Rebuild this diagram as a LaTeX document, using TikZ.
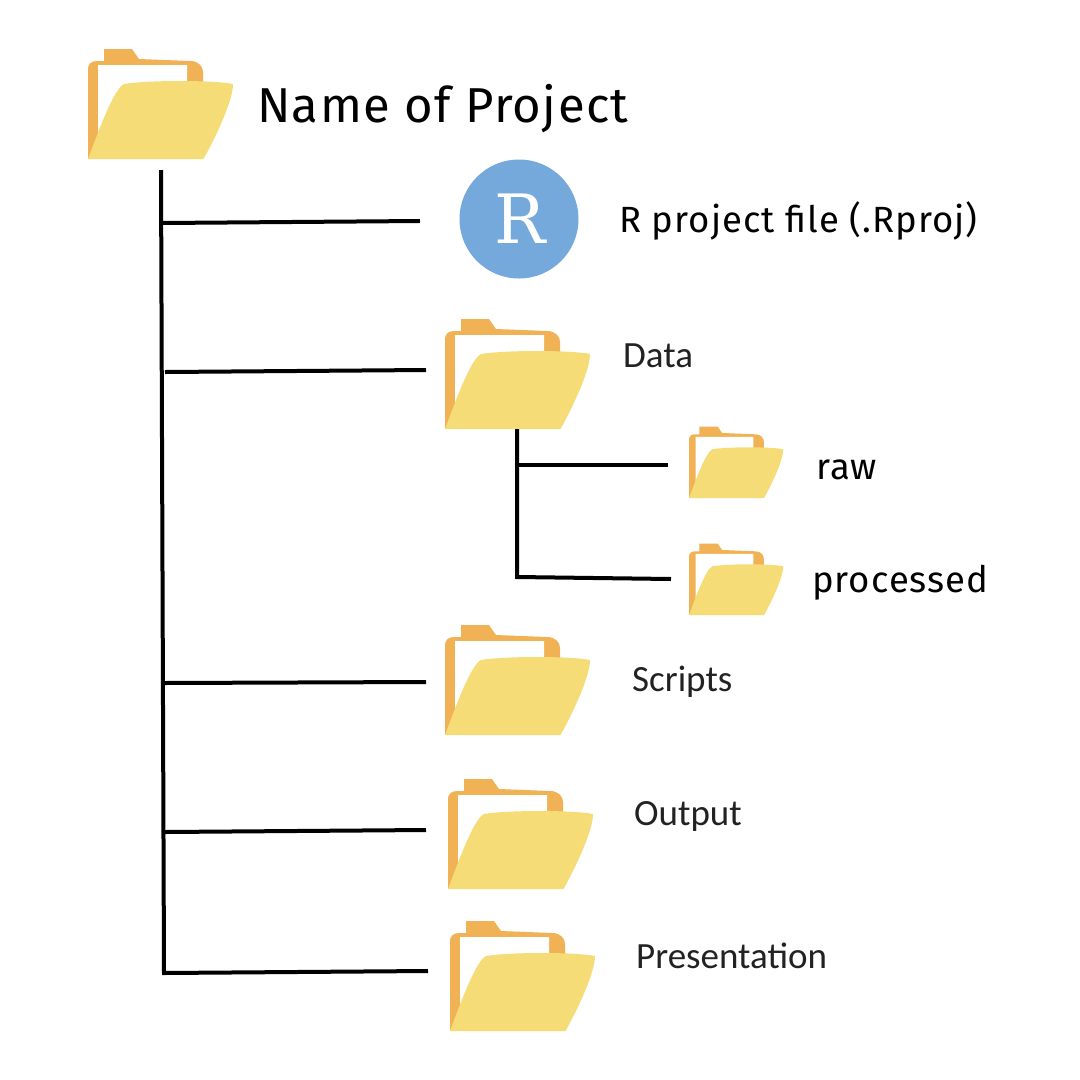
\documentclass[tikz,border=0pt]{standalone}
\usepackage{fontspec}
\setmainfont[LetterSpace=2.8]{Fira Sans}
\newfontfamily\lblfont{Carlito}
\newfontfamily\rfont{DejaVu Serif}
\definecolor{folderback}{HTML}{F0B254}
\definecolor{folderfront}{HTML}{F5DC76}
\definecolor{rblue}{HTML}{75A9DB}
\definecolor{labeldark}{HTML}{222222}
\tikzset{
  x=1pt,y=1pt,
  link/.style={draw=black,line width=4pt,line cap=butt,line join=miter},
  bigtext/.style={anchor=base west,inner sep=0pt,text=black,font=\fontsize{49}{52}\selectfont},
  midtext/.style={anchor=base west,inner sep=0pt,text=black,font=\fontsize{36.5}{40}\selectfont},
  lbl/.style={anchor=base west,inner sep=0pt,text=labeldark,font=\lblfont\fontsize{37}{40}\selectfont},
  pics/folder/.style={code={
    \fill[folderback] (0,0) -- (0,89) .. controls (0,96) and (4,98) .. (10,98) -- (16,98) -- (16,110) -- (44,110) -- (51,100) -- (102,98) .. controls (111,98) and (115,92) .. (115,87) -- (115,72) -- (60,40) -- cycle;
    \fill[white] (10,25) -- (10,94) -- (99,94) -- (99,70) -- (60,40) -- cycle;
    \fill[folderfront] (0,0) -- (115.5,0) .. controls (131,28) and (145,60) .. (145,75) .. controls (125,79) and (60,79) .. (36,75) .. controls (26,70) and (12,32) .. (0,0) -- cycle;
  }}
}
\begin{document}
\begin{tikzpicture}
\useasboundingbox[fill=white] (0,0) rectangle (1080,-1080);
\pic at (88,-159) {folder};
\pic at (445,-429) {folder};
\pic[scale=.65] at (689,-498) {folder};
\pic[scale=.65] at (689,-615) {folder};
\pic at (445,-735) {folder};
\pic at (448,-889) {folder};
\pic at (450,-1031) {folder};
\node[circle,fill=rblue,minimum size=119pt,inner sep=0pt] (rlogo) at (519,-219) {};
\node[text=white,inner sep=0pt,font=\rfont\fontsize{68}{70}\selectfont,anchor=base] (rletter) at (520,-243) {R};
\node[bigtext] (title) at (257,-122) {Name of Project};
\node[midtext] (rproj) at (619,-232) {R project file (.Rproj)};
\node[lbl] (data) at (623,-367) {Data};
\node[midtext] (raw) at (816,-479) {raw};
\node[midtext] (processed) at (812,-592) {processed};
\node[lbl] (scripts) at (632,-691) {Scripts};
\node[lbl] (output) at (634,-825) {Output};
\node[lbl] (presentation) at (636,-968) {Presentation};
\coordinate (top) at (161,-170);
\coordinate (bottom) at (164,-973);
\coordinate (j1) at (162,-223);
\coordinate (e1) at (420,-221);
\coordinate (j2) at (165,-372);
\coordinate (e2) at (426,-370);
\coordinate (j3) at (164,-683);
\coordinate (e3) at (426,-682);
\coordinate (j4) at (165,-832);
\coordinate (e4) at (426,-830);
\coordinate (e5) at (428,-971);
\coordinate (dtop) at (517,-429);
\coordinate (dbot) at (517,-577);
\coordinate (j6) at (518,-465);
\coordinate (e6) at (668,-465);
\coordinate (e7) at (671,-579);
\draw[link] (top) -- (bottom) -- (e5);
\draw[link] (j1) -- (e1);
\draw[link] (j2) -- (e2);
\draw[link] (j3) -- (e3);
\draw[link] (j4) -- (e4);
\draw[link] (dtop) -- (dbot) -- (e7);
\draw[link] (j6) -- (e6);
\end{tikzpicture}
\end{document}
